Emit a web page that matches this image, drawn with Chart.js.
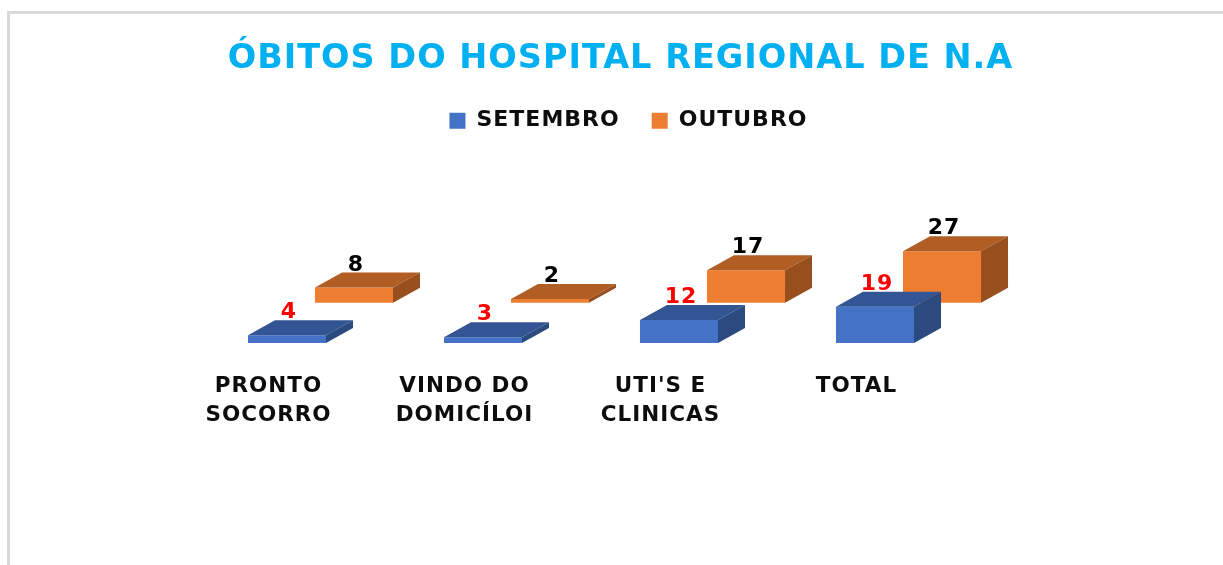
<!DOCTYPE html>
<html>
<head>
<meta charset="utf-8">
<script src="https://cdn.jsdelivr.net/npm/chart.js@4"></script>
<style>
html,body{margin:0;padding:0;background:#fff;overflow:hidden}
#frame{position:absolute;left:7px;top:11px;width:1216px;height:554px;border-left:3px solid #d9d9d9;border-top:3px solid #d9d9d9;box-sizing:border-box}
canvas{position:absolute;left:0;top:0;filter:blur(0.5px)}
</style>
</head>
<body>
<div id="frame"></div>
<canvas id="c" width="1223" height="565"></canvas>
<script>
const categories = [["PRONTO","SOCORRO"],["VINDO DO","DOMICÍLOI"],["UTI'S E","CLINICAS"],["TOTAL"]];
const setembro = [4,3,12,19];
const outubro = [8,2,17,27];
const seriesNames = ["SETEMBRO","OUTUBRO"];
const frontColors = ["#4472C4","#ED7D31"];
const topColors = ["#335593","#B15E24"];
const sideColors = ["#2B4A80","#984F1E"];
const valueColors = ["#FF0000","#000000"];
const FONT = '"DejaVu Sans", sans-serif';
const DX = 27, DY = 15;

const depthPlugin = {
  id:'depth',
  beforeInit(chart){ chart.ctx.letterSpacing='1px'; },
  beforeLayout(chart){ chart.ctx.letterSpacing='1px'; },
  afterLayout(chart){
    chart.legend.left += 8; chart.legend.right += 8;
    chart.legend.top -= 1.5; chart.legend.bottom -= 1.5;
  },
  afterDatasetDraw(chart,args){
    const ctx = chart.ctx, i = args.index;
    args.meta.data.forEach(b=>{
      const l=b.x-b.width/2, r=b.x+b.width/2, t=b.y, base=b.base;
      ctx.save();
      ctx.fillStyle=topColors[i];
      ctx.beginPath();ctx.moveTo(l,t);ctx.lineTo(l+DX,t-DY);ctx.lineTo(r+DX,t-DY);ctx.lineTo(r,t);ctx.closePath();ctx.fill();
      ctx.fillStyle=sideColors[i];
      ctx.beginPath();ctx.moveTo(r,t);ctx.lineTo(r+DX,t-DY);ctx.lineTo(r+DX,base-DY);ctx.lineTo(r,base);ctx.closePath();ctx.fill();
      ctx.restore();
    });
  },
  afterDatasetsDraw(chart){
    const ctx = chart.ctx;
    chart.data.datasets.forEach((ds,i)=>{
      chart.getDatasetMeta(i).data.forEach((b,j)=>{
        ctx.save();
        ctx.font='bold 22px '+FONT;
        ctx.fillStyle=valueColors[i];
        ctx.textAlign='center';
        ctx.textBaseline='alphabetic';
        ctx.fillText(ds.data[j],b.x+2,b.y-DY-2);
        ctx.restore();
      });
    });
  }
};

new Chart(document.getElementById('c'),{
  type:'bar',
  data:{
    labels:categories,
    datasets:[
      {label:seriesNames[0],data:setembro,backgroundColor:frontColors[0],yAxisID:'y'},
      {label:seriesNames[1],data:outubro,backgroundColor:frontColors[1],yAxisID:'y2'}
    ]
  },
  options:{
    responsive:false,
    animation:false,
    barPercentage:1.164,
    categoryPercentage:0.684,
    layout:{padding:{left:18,right:0,top:0,bottom:122}},
    plugins:{
      tooltip:{enabled:false},
      title:{display:true,text:"ÓBITOS DO HOSPITAL REGIONAL DE N.A",color:"#00B0F0",
        font:{family:FONT,size:33.5,weight:'bold'},padding:{top:39,bottom:0}},
      legend:{display:true,position:'top',
        labels:{color:"#0d0d0d",font:{family:FONT,size:22,weight:'bold'},boxWidth:16,boxHeight:16,padding:32,
          generateLabels(chart){
            return chart.data.datasets.map((d,i)=>({text:d.label,fillStyle:frontColors[i],strokeStyle:frontColors[i],lineWidth:0,datasetIndex:i,fontColor:"#0d0d0d"}));
          }}}
    },
    scales:{
      x:{position:'bottom',grid:{display:false},border:{display:false},
        afterFit(s){s.height=100;},
        ticks:{color:"#0d0d0d",font:{family:FONT,size:21.5,weight:'bold',lineHeight:1.35},padding:21,labelOffset:-52,autoSkip:false,maxRotation:0,minRotation:0}},
      y:{position:'left',min:0,max:104.4,grid:{display:false},border:{display:false},
        afterFit(s){s.width=204.5;},ticks:{display:false}},
      y2:{position:'right',min:-21,max:83.4,grid:{display:false},border:{display:false},
        afterFit(s){s.width=216.5;},ticks:{display:false}}
    }
  },
  plugins:[depthPlugin]
});
</script>
</body>
</html>
